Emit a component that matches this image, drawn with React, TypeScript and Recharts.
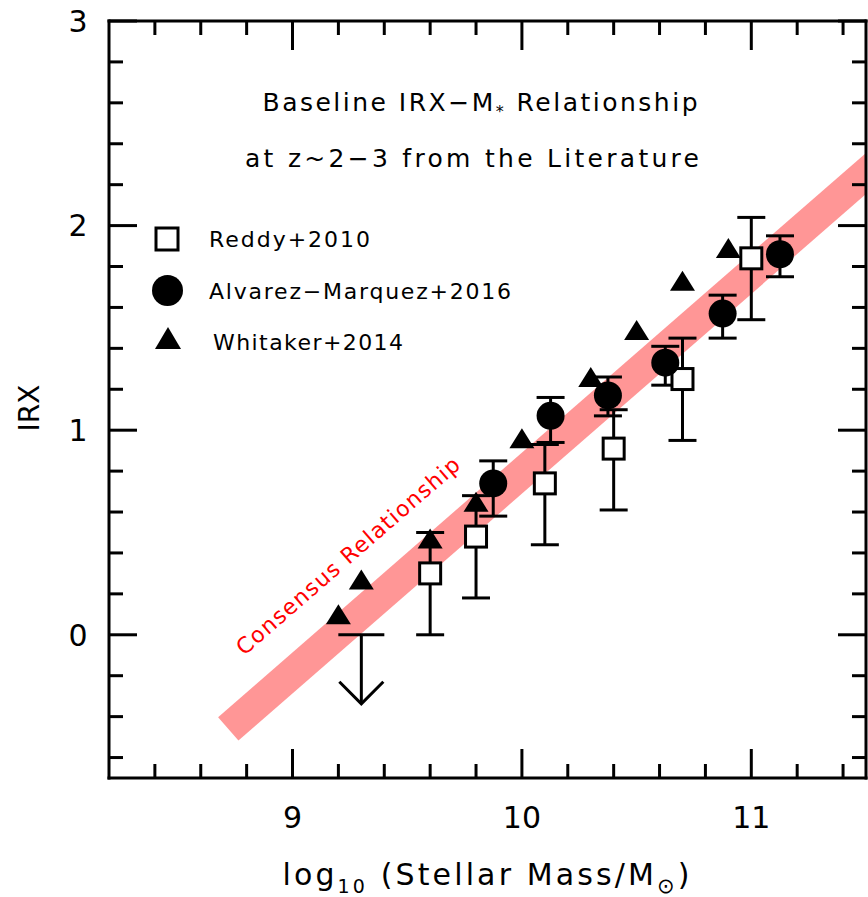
import { ComposedChart, Scatter, Line, XAxis, YAxis, ErrorBar, Customized } from 'recharts';

// Reddy+2010 (open squares), errors are [below, above]
const reddyMass = [9.6, 9.8, 10.1, 10.4, 10.7, 11.0];
const reddyIRX = [0.30, 0.48, 0.74, 0.91, 1.25, 1.84];
const reddyErrLow = [0.30, 0.30, 0.30, 0.30, 0.30, 0.30];
const reddyErrHigh = [0.20, 0.20, 0.19, 0.19, 0.20, 0.20];

// Reddy+2010 upper limit
const limitMass = [9.3];
const limitIRX = [0.0];

// Alvarez-Marquez+2016 (filled circles)
const alvarezMass = [9.875, 10.125, 10.375, 10.625, 10.875, 11.125];
const alvarezIRX = [0.74, 1.07, 1.17, 1.33, 1.57, 1.86];
const alvarezErrLow = [0.16, 0.13, 0.10, 0.11, 0.12, 0.11];
const alvarezErrHigh = [0.11, 0.09, 0.09, 0.08, 0.09, 0.09];

// Whitaker+2014 (filled triangles)
const whitakerMass = [9.2, 9.3, 9.6, 9.8, 10.0, 10.3, 10.5, 10.7, 10.9];
const whitakerIRX = [0.10, 0.27, 0.47, 0.65, 0.96, 1.26, 1.49, 1.73, 1.89];

// consensus relationship band
const consensusMass = [8.72, 11.7];
const consensusIRX = [-0.46, 2.45];

const xTicks = [8.4, 8.6, 8.8, 9, 9.2, 9.4, 9.6, 9.8, 10, 10.2, 10.4, 10.6, 10.8, 11, 11.2, 11.4];
const yTicks = [-0.6, -0.4, -0.2, 0, 0.2, 0.4, 0.6, 0.8, 1, 1.2, 1.4, 1.6, 1.8, 2, 2.2, 2.4, 2.6, 2.8, 3];

const reddyData = reddyMass.map((x, i) => ({ x, y: reddyIRX[i], err: [reddyErrLow[i], reddyErrHigh[i]] }));
const limitData = limitMass.map((x, i) => ({ x, y: limitIRX[i] }));
const alvarezData = alvarezMass.map((x, i) => ({ x, y: alvarezIRX[i], err: [alvarezErrLow[i], alvarezErrHigh[i]] }));
const whitakerData = whitakerMass.map((x, i) => ({ x, y: whitakerIRX[i] }));
const consensusData = consensusMass.map((x, i) => ({ x, y: consensusIRX[i] }));

const FONT = "'DejaVu Sans', sans-serif";
const frame = { stroke: '#000', strokeWidth: 3, strokeLinecap: 'square' as const };

const isMajor = (v: number) => Math.abs(v - Math.round(v)) < 1e-6;

function XTick(props: any) {
    const { x, y, payload, side } = props;
    const v = payload.value;
    const len = isMajor(v) ? 29 : 14;
    const dir = side === 'bottom' ? -1 : 1;
    return (
        <g>
            <line x1={x} y1={y} x2={x} y2={y + dir * len} stroke="#000" strokeWidth={3} />
            {side === 'bottom' && isMajor(v) && (
                <text x={x} y={y + 50} textAnchor="middle" fontFamily={FONT} fontSize={30} fill="#000">
                    {Math.round(v)}
                </text>
            )}
        </g>
    );
}

function YTick(props: any) {
    const { x, y, payload, side } = props;
    const v = payload.value;
    const len = isMajor(v) ? 28 : 14;
    const dir = side === 'left' ? 1 : -1;
    return (
        <g>
            <line x1={x} y1={y} x2={x + dir * len} y2={y} stroke="#000" strokeWidth={3} />
            {side === 'left' && isMajor(v) && (
                <text x={x - 31} y={y} dy="0.36em" textAnchor="middle" fontFamily={FONT} fontSize={30} fill="#000">
                    {Math.round(v)}
                </text>
            )}
        </g>
    );
}

const squareShape = (p: any) => (
    <rect x={p.cx - 10.5} y={p.cy - 10.5} width={21} height={21} fill="#fff" stroke="#000" strokeWidth={3} />
);
const circleShape = (p: any) => <circle cx={p.cx} cy={p.cy} r={14} fill="#000" />;
const triangleShape = (p: any) => (
    <path d={`M${p.cx},${p.cy - 10} L${p.cx + 12.5},${p.cy + 10} L${p.cx - 12.5},${p.cy + 10} Z`} fill="#000" />
);
const limitShape = (p: any) => (
    <g stroke="#000" strokeWidth={3} fill="none">
        <line x1={p.cx - 23} y1={p.cy} x2={p.cx + 23} y2={p.cy} />
        <line x1={p.cx} y1={p.cy} x2={p.cx} y2={p.cy + 69} />
        <polyline points={`${p.cx - 22},${p.cy + 47} ${p.cx},${p.cy + 69} ${p.cx + 22},${p.cy + 47}`} />
    </g>
);

function Annotations() {
    const txt = { fontFamily: FONT, fill: '#000' };
    return (
        <g>
            <text x={480} y={111} textAnchor="middle" fontSize={25} textLength={435} lengthAdjust="spacing" {...txt}>
                Baseline IRX−M<tspan fontSize={16} dy={6}>*</tspan><tspan dy={-6}> Relationship</tspan>
            </text>
            <text x={472} y={167} textAnchor="middle" fontSize={25} textLength={454} lengthAdjust="spacing" {...txt}>
                at z~2−3 from the Literature
            </text>

            <rect x={156} y={228} width={22} height={22} fill="#fff" stroke="#000" strokeWidth={3} />
            <circle cx={167.5} cy={290.5} r={15.5} fill="#000" />
            <path d="M168,327 L181,349 L155,349 Z" fill="#000" />
            <text x={209} y={247} fontSize={22} textLength={161} lengthAdjust="spacing" {...txt}>Reddy+2010</text>
            <text x={209} y={299} fontSize={22} textLength={302} lengthAdjust="spacing" {...txt}>Alvarez−Marquez+2016</text>
            <text x={213} y={350} fontSize={22} textLength={190} lengthAdjust="spacing" {...txt}>Whitaker+2014</text>

            <text x={348} y={556} textAnchor="middle" dominantBaseline="central" fontSize={22} fill="#ff0000"
                fontFamily={FONT} textLength={288} lengthAdjust="spacing" transform="rotate(-41 348 556)">
                Consensus Relationship
            </text>

            <text x={29} y={408} textAnchor="middle" dy="0.36em" fontSize={28} transform="rotate(-90 29 408)" {...txt}>
                IRX
            </text>
            <text x={486} y={885} textAnchor="middle" fontSize={30} textLength={407} lengthAdjust="spacing" {...txt}>
                log<tspan fontSize={19} dy={8}>10</tspan><tspan dy={-8}> (Stellar Mass/M</tspan><tspan fontSize={21} dy={8}>⊙</tspan><tspan dy={-8}>)</tspan>
            </text>
        </g>
    );
}

export default function App() {
    return (
        <div style={{ position: 'absolute', left: 0, top: 0, background: '#fff' }}>
            <ComposedChart width={868} height={897} margin={{ top: 20, right: 1, bottom: 0, left: 0 }}>
                <XAxis xAxisId="b" type="number" dataKey="x" domain={[8.2, 11.5]} allowDataOverflow ticks={xTicks}
                    interval={0} height={119} tickSize={0} tickMargin={0} tickLine={false} axisLine={frame}
                    tick={<XTick side="bottom" />} />
                <XAxis xAxisId="t" orientation="top" type="number" dataKey="x" domain={[8.2, 11.5]} allowDataOverflow
                    ticks={xTicks} interval={0} height={1} tickSize={0} tickMargin={0} tickLine={false} axisLine={frame}
                    tick={<XTick side="top" />} />
                <YAxis yAxisId="l" type="number" dataKey="y" domain={[-0.7, 3]} allowDataOverflow ticks={yTicks}
                    interval={0} width={109} tickSize={0} tickMargin={0} tickLine={false} axisLine={frame}
                    tick={<YTick side="left" />} />
                <YAxis yAxisId="r" orientation="right" type="number" dataKey="y" domain={[-0.7, 3]} allowDataOverflow
                    ticks={yTicks} interval={0} width={1} tickSize={0} tickMargin={0} tickLine={false} axisLine={frame}
                    tick={<YTick side="right" />} />

                <Line xAxisId="b" yAxisId="l" data={consensusData} dataKey="y" type="linear" stroke="#ff9696"
                    strokeWidth={31} strokeLinecap="butt" dot={false} activeDot={false} isAnimationActive={false} />

                <Scatter xAxisId="b" yAxisId="l" name="Whitaker+2014" data={whitakerData} shape={triangleShape}
                    isAnimationActive={false} />
                <Scatter xAxisId="b" yAxisId="l" name="Reddy+2010 limit" data={limitData} shape={limitShape}
                    isAnimationActive={false} />
                <Scatter xAxisId="b" yAxisId="l" name="Reddy+2010" data={reddyData} shape={squareShape}
                    isAnimationActive={false}>
                    <ErrorBar dataKey="err" direction="y" width={14} strokeWidth={3} stroke="#000" isAnimationActive={false} />
                </Scatter>
                <Scatter xAxisId="b" yAxisId="l" name="Alvarez-Marquez+2016" data={alvarezData} shape={circleShape}
                    isAnimationActive={false}>
                    <ErrorBar dataKey="err" direction="y" width={14} strokeWidth={3} stroke="#000" isAnimationActive={false} />
                </Scatter>

                <Customized component={<Annotations />} />
            </ComposedChart>
        </div>
    );
}
